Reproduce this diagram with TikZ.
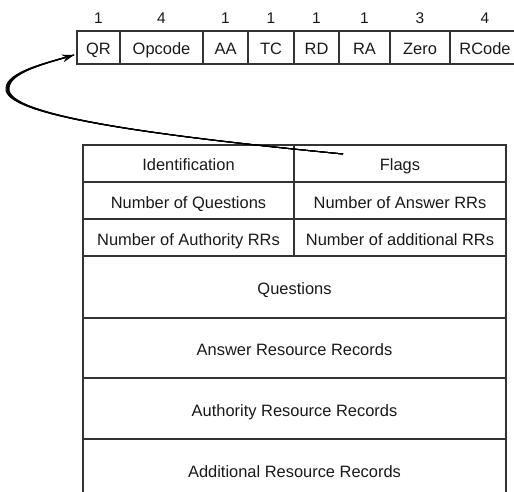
\documentclass[tikz,border=0pt]{standalone}
\usepackage{fontspec}
\setmainfont{Liberation Sans}
\usetikzlibrary{arrows.meta}
\begin{document}
\begin{tikzpicture}[x=1bp,y=-1bp,
  cell/.style={draw=black!80, line width=1.3bp, inner sep=0pt, outer sep=0pt,
    text=black!90, font=\fontsize{16.5}{17}\selectfont,
    text height=15bp, text depth=0bp},
  flagcell/.style={cell, minimum height=33bp},
  bits/.style={inner sep=0pt, anchor=base, text=black!90, font=\fontsize{15.5}{16}\selectfont},
  row/.style={cell, minimum height=37bp},
  bigrow/.style={cell, minimum width=423bp},
  curve/.style={line width=1bp, black}]
\useasboundingbox (0,0) rectangle (514,492);

% flags field: cells with their bit widths above
\node[flagcell, minimum width=43bp] (qr)   at (98.5,47.5) {QR};
\node[flagcell, minimum width=83bp] (op)   at (161.5,47.5) {Opcode};
\node[flagcell, minimum width=45bp] (aa)   at (225.5,47.5) {AA};
\node[flagcell, minimum width=46bp] (tc)   at (271,47.5) {TC};
\node[flagcell, minimum width=45bp] (rd)   at (316.5,47.5) {RD};
\node[flagcell, minimum width=51bp] (ra)   at (364.5,47.5) {RA};
\node[flagcell, minimum width=60bp] (zero) at (420,47.5) {Zero};
\node[flagcell, minimum width=70bp] (rc)   at (485,47.5) {RCode};

\node[bits] (bqr)   at (98.5,24) {1};
\node[bits] (bop)   at (161.5,24) {4};
\node[bits] (baa)   at (225.5,24) {1};
\node[bits] (btc)   at (271,24) {1};
\node[bits] (brd)   at (316.5,24) {1};
\node[bits] (bra)   at (364.5,24) {1};
\node[bits] (bzero) at (420,24) {3};
\node[bits] (brc)   at (485,24) {4};

% message layout
\node[row, minimum width=211bp] (ident) at (188.5,163.5) {Identification};
\node[row, minimum width=212bp] (flags) at (400,163.5) {Flags};
\node[row, minimum width=211bp] (nq)    at (188.5,200.5) {Number of Questions};
\node[row, minimum width=212bp] (nan)   at (400,200.5) {Number of Answer RRs};
\node[row, minimum width=211bp] (nau)   at (188.5,237.5) {Number of Authority RRs};
\node[row, minimum width=212bp] (nad)   at (400,237.5) {Number of additional RRs};
\node[bigrow, minimum height=62bp] (quest) at (294.5,287) {Questions};
\node[bigrow, minimum height=60bp] (ans)   at (294.5,348) {Answer Resource Records};
\node[bigrow, minimum height=61bp] (auth)  at (294.5,408.5) {Authority Resource Records};
\node[bigrow, minimum height=62bp] (addl)  at (294.5,470) {Additional Resource Records};

% curved pointer from the Flags field up to the flag bits
\coordinate (tail) at (343,154);
\coordinate (tip)  at (74,55);
\foreach \s in {-0.75,-1.5,-2.25,-3}{
  \draw[curve, xshift=\s bp] (tail) .. controls (150,135) and (5,115) .. (9,88)
    .. controls (10,72) and (48,63) .. (tip);
}
\draw[curve, -{Stealth[length=12bp,width=8bp]}] (tail) .. controls (150,135) and (5,115) .. (9,88)
    .. controls (10,72) and (48,63) .. (tip);
\end{tikzpicture}
\end{document}
